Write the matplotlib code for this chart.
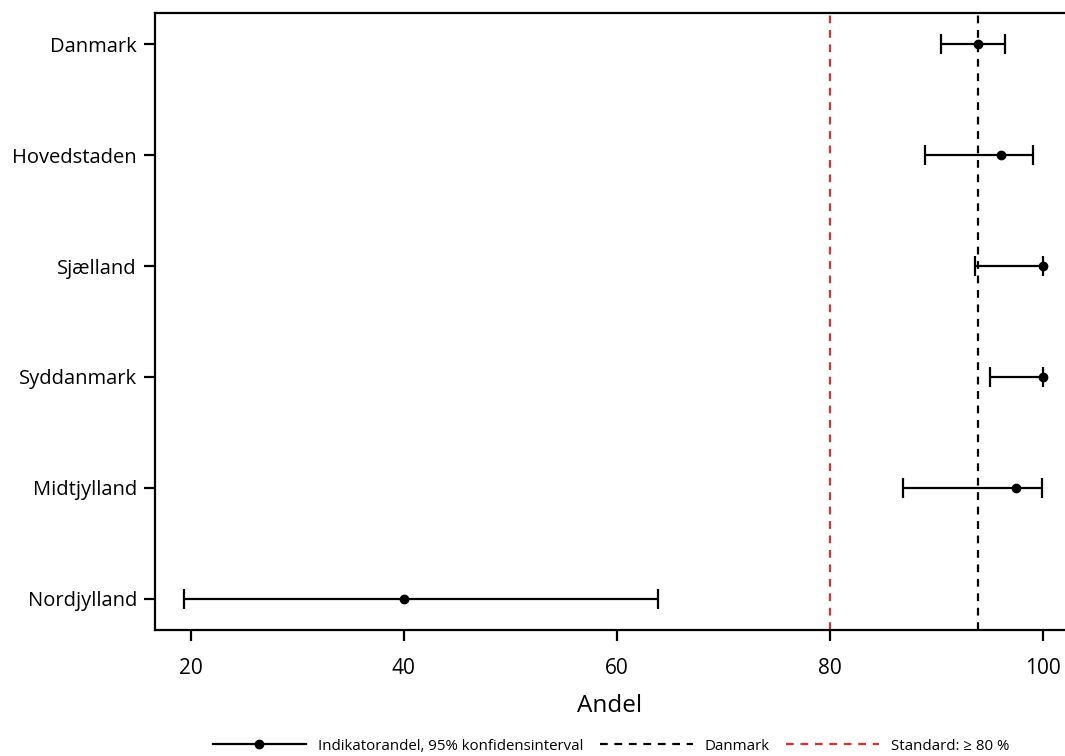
import numpy as np
import matplotlib.pyplot as plt
from matplotlib.lines import Line2D

plt.rcParams['font.family'] = ['Open Sans', 'DejaVu Sans']

# regions, top to bottom as shown
regions = ["Danmark", "Hovedstaden", "Sjælland", "Syddanmark", "Midtjylland", "Nordjylland"]
andel = [93.9, 96.1, 100.0, 100.0, 97.5, 40.0]
lower = [90.4, 88.9, 93.6, 95.0, 86.9, 19.4]
upper = [96.4, 99.1, 100.0, 100.0, 99.9, 63.9]
danmark_value = 93.9
standard = 80
xticks = [20, 40, 60, 80, 100]

andel = np.array(andel)
err = np.vstack([andel - np.array(lower), np.array(upper) - andel])
ypos = np.arange(len(regions))[::-1]

fig = plt.figure(figsize=(10.65, 7.56), dpi=100)
ax = fig.add_axes([0.1455, 0.1667, 0.8545, 0.8161])

dash = (0, (3.5, 3))
ax.errorbar(andel, ypos, xerr=err, fmt='o', color='black', ms=6,
            elinewidth=1.6, capsize=7.5, capthick=1.6, zorder=3)
ax.axvline(danmark_value, color='black', ls=dash, lw=1.6, zorder=2)
ax.axvline(standard, color='#d8342c', ls=dash, lw=1.6, zorder=2)

ax.set_xlim(16.65, 102.06)
ax.set_ylim(-0.28, 5.28)
ax.set_yticks(ypos)
ax.set_yticklabels(regions, fontsize=14.5)
ax.set_xticks(xticks)
ax.set_xticklabels([str(t) for t in xticks], fontsize=15)
ax.tick_params(axis='both', length=8, width=1.6, direction='out')
ax.tick_params(axis='x', pad=12)
ax.tick_params(axis='y', pad=5)
ax.set_xlabel("Andel", fontsize=17.5, labelpad=11)

for s in ['left', 'bottom', 'top']:
    ax.spines[s].set_linewidth(1.6)
ax.spines['right'].set_visible(False)

handles = [
    Line2D([], [], color='black', lw=1.6, marker='o', ms=6),
    Line2D([], [], color='black', lw=1.6, ls=dash),
    Line2D([], [], color='#d8342c', lw=1.6, ls=dash),
]
labels = ["Indikatorandel, 95% konfidensinterval", "Danmark", "Standard: \u2265 80 %"]
fig.legend(handles, labels, loc='center', bbox_to_anchor=(0.574, 0.013),
           ncol=3, frameon=False, fontsize=10.8, handlelength=6.2, numpoints=1,
           columnspacing=1.1, handletextpad=0.8)

fig.savefig("out.png", dpi=100)
